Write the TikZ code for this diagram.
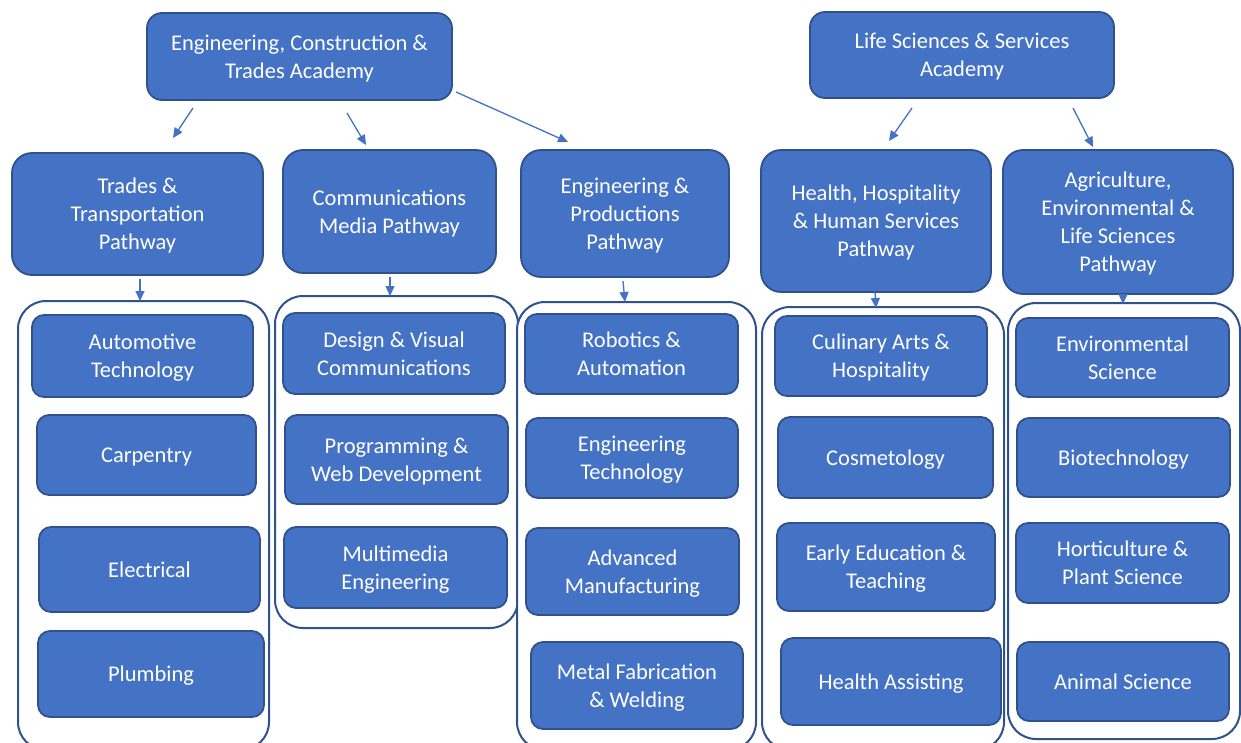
\documentclass[tikz,border=0pt]{standalone}
\usepackage{fontspec}
\setmainfont{Carlito}
\usetikzlibrary{arrows.meta}
\definecolor{boxfill}{HTML}{4472C4}
\definecolor{boxline}{HTML}{2F528F}
\definecolor{grpline}{HTML}{2F528F}
\begin{document}
\begin{tikzpicture}[x=1pt,y=-1pt,
  box/.style={draw=boxline, line width=1.8pt, fill=boxfill, rounded corners=12pt,
    text=white, align=center, inner sep=0pt, text depth=-1pt, font=\fontsize{22.5}{28}\selectfont},
  pathbox/.style={box, rounded corners=20pt},
  grp/.style={draw=grpline, line width=2pt, fill=white, rounded corners=28pt, inner sep=0pt},
  arr/.style={draw=boxfill, line width=1.3pt, -{Triangle[length=10pt,width=9pt]}}]
\clip (0,0) rectangle (1241,742);
\fill[white] (0,0) rectangle (1241,742);

% groups
\node[grp, minimum width=251, minimum height=449] (g1) at (143.5,525.5) {};
\node[grp, minimum width=243, minimum height=332] (g2) at (396.5,462) {};
\node[grp, minimum width=239, minimum height=448] (g3) at (636.5,526) {};
\node[grp, minimum width=242, minimum height=443] (g4) at (883,528.5) {};
\node[grp, minimum width=232, minimum height=436] (g5) at (1124,521) {};

% academies
\node[box, rounded corners=15pt, minimum width=305, minimum height=87] (ect) at (299.5,56.5) {Engineering, Construction \&\\Trades Academy};
\node[box, rounded corners=15pt, minimum width=304, minimum height=86] (ls) at (962,55) {Life Sciences \& Services\\Academy};

% pathways
\node[pathbox, minimum width=251, minimum height=122] (trades) at (137.5,214) {Trades \&\\Transportation\\Pathway};
\node[pathbox, minimum width=213, minimum height=123] (comm) at (389.5,211.5) {Communications\\Media Pathway};
\node[pathbox, minimum width=208, minimum height=127] (eng) at (625,213.5) {Engineering \&\\Productions\\Pathway};
\node[pathbox, minimum width=230, minimum height=142] (health) at (876,221) {Health, Hospitality\\\& Human Services\\Pathway};
\node[pathbox, minimum width=230, minimum height=144] (agri) at (1118,222) {Agriculture,\\Environmental \&\\Life Sciences\\Pathway};

% group 1
\node[box, minimum width=221, minimum height=82] (auto) at (142.5,356) {Automotive\\Technology};
\node[box, minimum width=219, minimum height=80] (carp) at (146.5,455) {Carpentry};
\node[box, minimum width=221, minimum height=85] (elec) at (149.5,569.5) {Electrical};
\node[box, minimum width=226, minimum height=86] (plumb) at (151,674) {Plumbing};
% group 2
\node[box, minimum width=222, minimum height=81] (design) at (394,353.5) {Design \& Visual\\Communications};
\node[box, minimum width=223, minimum height=89] (prog) at (396.5,459.5) {Programming \&\\Web Development};
\node[box, minimum width=223, minimum height=81] (multi) at (395.5,567.5) {Multimedia\\Engineering};
% group 3
\node[box, minimum width=213, minimum height=80] (robot) at (631.5,354) {Robotics \&\\Automation};
\node[box, minimum width=212, minimum height=80] (engtech) at (632,458) {Engineering\\Technology};
\node[box, minimum width=213, minimum height=87] (adv) at (632.5,571.5) {Advanced\\Manufacturing};
\node[box, minimum width=212, minimum height=87] (metal) at (637,685.5) {Metal Fabrication\\\& Welding};
% group 4
\node[box, minimum width=212, minimum height=80] (culin) at (881,356) {Culinary Arts \&\\Hospitality};
\node[box, minimum width=215, minimum height=81] (cosmo) at (885.5,457.5) {Cosmetology};
\node[box, minimum width=218, minimum height=88] (early) at (886,567) {Early Education \&\\Teaching};
\node[box, minimum width=220, minimum height=87] (hassist) at (891,681.5) {Health Assisting};
% group 5
\node[box, minimum width=213, minimum height=79] (env) at (1122.5,357.5) {Environmental\\Science};
\node[box, minimum width=213, minimum height=79] (bio) at (1123.5,457.5) {Biotechnology};
\node[box, minimum width=213, minimum height=80] (hort) at (1122.5,563) {Horticulture \&\\Plant Science};
\node[box, minimum width=212, minimum height=79] (animal) at (1123,681.5) {Animal Science};

% arrow end points
\coordinate (a1s) at (193,108); \coordinate (a1e) at (173,138);
\coordinate (a2s) at (347,113); \coordinate (a2e) at (366,145);
\coordinate (a3s) at (456,92);  \coordinate (a3e) at (568,142);
\coordinate (a4s) at (912,108); \coordinate (a4e) at (889,141);
\coordinate (a5s) at (1073,108); \coordinate (a5e) at (1093,147);
\coordinate (p1s) at (140,279); \coordinate (p1e) at (140,301);
\coordinate (p2s) at (390,277); \coordinate (p2e) at (390,296);
\coordinate (p3s) at (623,281); \coordinate (p3e) at (625,302);
\coordinate (p4s) at (875,292); \coordinate (p4e) at (876,308);
\coordinate (p5s) at (1123,294); \coordinate (p5e) at (1123,304);

\draw[arr] (a1s) -- (a1e);
\draw[arr] (a2s) -- (a2e);
\draw[arr] (a3s) -- (a3e);
\draw[arr] (a4s) -- (a4e);
\draw[arr] (a5s) -- (a5e);
\draw[arr] (p1s) -- (p1e);
\draw[arr] (p2s) -- (p2e);
\draw[arr] (p3s) -- (p3e);
\draw[arr] (p4s) -- (p4e);
\draw[arr] (p5s) -- (p5e);
\end{tikzpicture}
\end{document}
